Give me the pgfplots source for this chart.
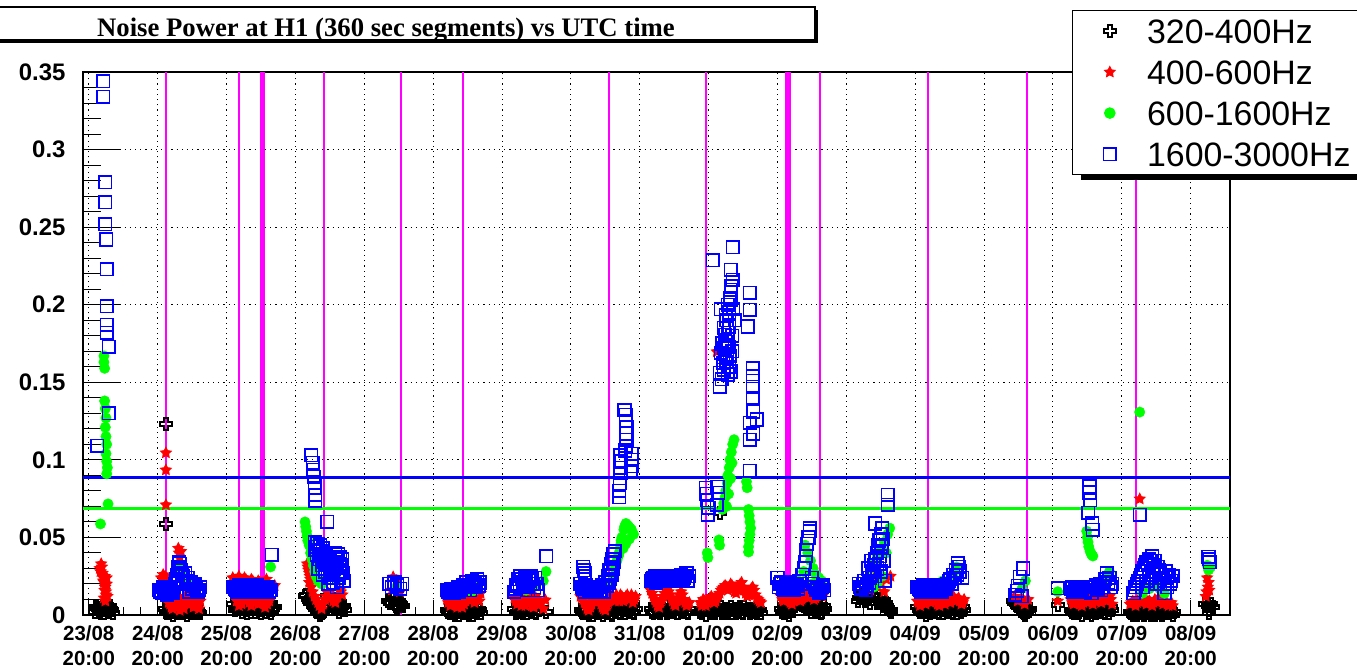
\documentclass[border=0pt]{standalone}
\usepackage{fontspec}
\setmainfont{Liberation Sans}
\newfontfamily\titlefont{Liberation Serif}
\usepackage{pgfplots}
\usepackage{pgfplotstable}
\pgfplotsset{compat=1.18}
\usetikzlibrary{shadows}

% hollow plus marker (320-400 Hz)
\pgfdeclareplotmark{opencross}{%
  \pgfpathmoveto{\pgfqpoint{-0.33\pgfplotmarksize}{\pgfplotmarksize}}%
  \pgfpathlineto{\pgfqpoint{0.33\pgfplotmarksize}{\pgfplotmarksize}}%
  \pgfpathlineto{\pgfqpoint{0.33\pgfplotmarksize}{0.33\pgfplotmarksize}}%
  \pgfpathlineto{\pgfqpoint{\pgfplotmarksize}{0.33\pgfplotmarksize}}%
  \pgfpathlineto{\pgfqpoint{\pgfplotmarksize}{-0.33\pgfplotmarksize}}%
  \pgfpathlineto{\pgfqpoint{0.33\pgfplotmarksize}{-0.33\pgfplotmarksize}}%
  \pgfpathlineto{\pgfqpoint{0.33\pgfplotmarksize}{-\pgfplotmarksize}}%
  \pgfpathlineto{\pgfqpoint{-0.33\pgfplotmarksize}{-\pgfplotmarksize}}%
  \pgfpathlineto{\pgfqpoint{-0.33\pgfplotmarksize}{-0.33\pgfplotmarksize}}%
  \pgfpathlineto{\pgfqpoint{-\pgfplotmarksize}{-0.33\pgfplotmarksize}}%
  \pgfpathlineto{\pgfqpoint{-\pgfplotmarksize}{0.33\pgfplotmarksize}}%
  \pgfpathlineto{\pgfqpoint{-0.33\pgfplotmarksize}{0.33\pgfplotmarksize}}%
  \pgfpathclose\pgfusepathqstroke}

% filled five-point star (400-600 Hz)
\pgfdeclareplotmark{fstar}{%
  \pgfpathmoveto{\pgfqpointpolar{90}{\pgfplotmarksize}}%
  \pgfpathlineto{\pgfqpointpolar{126}{0.5\pgfplotmarksize}}%
  \pgfpathlineto{\pgfqpointpolar{162}{\pgfplotmarksize}}%
  \pgfpathlineto{\pgfqpointpolar{198}{0.5\pgfplotmarksize}}%
  \pgfpathlineto{\pgfqpointpolar{234}{\pgfplotmarksize}}%
  \pgfpathlineto{\pgfqpointpolar{270}{0.5\pgfplotmarksize}}%
  \pgfpathlineto{\pgfqpointpolar{306}{\pgfplotmarksize}}%
  \pgfpathlineto{\pgfqpointpolar{342}{0.5\pgfplotmarksize}}%
  \pgfpathlineto{\pgfqpointpolar{18}{\pgfplotmarksize}}%
  \pgfpathlineto{\pgfqpointpolar{54}{0.5\pgfplotmarksize}}%
  \pgfpathclose\pgfusepathqfillstroke}

% time in days since 23/08 20:00 UTC, noise power per band
\pgfplotstableread[row sep=\\]{
x y\\
0.09 0.002\\ 0.13 0.004\\ 0.17 0.001\\ 0.20 0.006\\ 0.23 0.003\\ 0.26 0.005\\ 0.29 0.002\\ 0.32 0.004\\ 0.35 0.001\\
0.11 0.005\\ 0.15 0.002\\ 0.19 0.004\\ 0.22 0.001\\ 0.25 0.007\\ 0.28 0.003\\ 0.31 0.006\\ 0.34 0.003\\
1.12 0.123\\ 1.12 0.0587\\
1.10 0.004\\ 1.14 0.001\\ 1.18 0.003\\ 1.22 0.000\\ 1.26 0.002\\ 1.30 0.004\\ 1.34 0.001\\ 1.38 0.003\\ 1.42 0.000\\ 1.46 0.002\\ 1.50 0.004\\ 1.54 0.001\\ 1.58 0.003\\ 1.62 0.001\\
1.12 0.002\\ 1.16 0.005\\ 1.20 0.002\\ 1.24 0.004\\ 1.28 0.001\\ 1.32 0.006\\ 1.36 0.003\\ 1.40 0.005\\ 1.44 0.002\\ 1.48 0.004\\ 1.52 0.001\\ 1.56 0.005\\ 1.60 0.002\\
2.10 0.007\\ 2.14 0.004\\ 2.18 0.006\\ 2.22 0.002\\ 2.26 0.005\\ 2.30 0.001\\ 2.34 0.004\\ 2.38 0.006\\ 2.42 0.002\\ 2.46 0.005\\ 2.50 0.001\\ 2.54 0.004\\ 2.58 0.002\\ 2.62 0.006\\ 2.66 0.003\\ 2.70 0.005\\
2.12 0.003\\ 2.16 0.008\\ 2.20 0.004\\ 2.24 0.007\\ 2.28 0.003\\ 2.32 0.006\\ 2.36 0.002\\ 2.40 0.004\\ 2.44 0.007\\ 2.48 0.003\\ 2.52 0.006\\ 2.56 0.002\\ 2.60 0.005\\ 2.64 0.001\\ 2.68 0.004\\
3.14 0.012\\ 3.18 0.010\\ 3.21 0.008\\ 3.25 0.006\\ 3.28 0.004\\ 3.32 0.002\\ 3.36 0.000\\ 3.40 0.002\\ 3.44 0.008\\ 3.48 0.010\\ 3.52 0.006\\ 3.56 0.004\\ 3.60 0.007\\ 3.64 0.002\\ 3.68 0.005\\ 3.72 0.003\\ 3.62 0.0045\\
3.16 0.013\\ 3.20 0.009\\ 3.23 0.011\\ 3.27 0.007\\ 3.30 0.005\\ 3.34 0.003\\ 3.38 0.001\\ 3.42 0.006\\ 3.46 0.012\\ 3.50 0.008\\ 3.54 0.010\\ 3.58 0.006\\ 3.62 0.009\\ 3.66 0.004\\ 3.70 0.006\\
4.35 0.009\\ 4.40 0.011\\ 4.44 0.007\\ 4.48 0.005\\ 4.52 0.008\\ 4.56 0.006\\ 4.38 0.008\\ 4.42 0.010\\ 4.46 0.006\\ 4.50 0.009\\ 4.54 0.007\\
5.20 0.003\\ 5.24 0.001\\ 5.28 0.004\\ 5.32 0.000\\ 5.36 0.002\\ 5.40 0.004\\ 5.44 0.001\\ 5.48 0.003\\ 5.52 0.000\\ 5.56 0.002\\ 5.60 0.004\\ 5.64 0.001\\ 5.68 0.003\\
5.22 0.002\\ 5.26 0.004\\ 5.30 0.001\\ 5.34 0.003\\ 5.38 0.000\\ 5.42 0.002\\ 5.46 0.004\\ 5.50 0.001\\ 5.54 0.003\\ 5.58 0.000\\ 5.62 0.002\\ 5.66 0.004\\ 5.70 0.001\\
6.18 0.004\\ 6.22 0.002\\ 6.26 0.005\\ 6.30 0.001\\ 6.34 0.003\\ 6.38 0.005\\ 6.42 0.002\\ 6.46 0.004\\ 6.50 0.001\\ 6.54 0.003\\ 6.64 0.002\\
6.20 0.001\\ 6.24 0.003\\ 6.28 0.002\\ 6.32 0.004\\ 6.36 0.001\\ 6.40 0.003\\ 6.44 0.005\\ 6.48 0.002\\ 6.52 0.004\\
7.14 0.003\\ 7.18 0.001\\ 7.22 0.004\\ 7.26 0.000\\ 7.30 0.002\\ 7.34 0.004\\ 7.38 0.001\\ 7.42 0.003\\ 7.46 0.000\\ 7.50 0.002\\ 7.54 0.004\\ 7.58 0.001\\ 7.62 0.003\\ 7.66 0.005\\ 7.70 0.002\\ 7.74 0.004\\ 7.78 0.001\\ 7.82 0.003\\ 7.86 0.005\\ 7.90 0.002\\ 7.94 0.004\\
7.16 0.002\\ 7.20 0.004\\ 7.24 0.001\\ 7.28 0.003\\ 7.32 0.000\\ 7.36 0.003\\ 7.40 0.005\\ 7.44 0.002\\ 7.48 0.004\\ 7.52 0.001\\ 7.56 0.003\\ 7.60 0.000\\ 7.64 0.002\\ 7.68 0.004\\ 7.72 0.001\\ 7.76 0.003\\ 7.80 0.005\\ 7.84 0.002\\ 7.88 0.004\\ 7.92 0.001\\
8.16 0.004\\ 8.20 0.001\\ 8.24 0.005\\ 8.28 0.002\\ 8.32 0.006\\ 8.36 0.003\\ 8.40 0.001\\ 8.44 0.004\\ 8.48 0.002\\ 8.52 0.005\\ 8.56 0.001\\ 8.60 0.003\\ 8.64 0.006\\ 8.68 0.002\\ 8.72 0.004\\
8.18 0.002\\ 8.22 0.006\\ 8.26 0.003\\ 8.30 0.001\\ 8.34 0.004\\ 8.38 0.006\\ 8.42 0.002\\ 8.46 0.005\\ 8.50 0.003\\ 8.54 0.001\\ 8.58 0.004\\ 8.62 0.002\\ 8.66 0.005\\ 8.70 0.001\\
8.88 0.002\\ 8.92 0.004\\ 8.96 0.000\\ 9.00 0.003\\ 9.04 0.001\\ 9.08 0.002\\ 9.12 0.005\\ 9.16 0.003\\ 9.20 0.001\\ 9.24 0.004\\ 9.28 0.002\\ 9.32 0.005\\ 9.36 0.003\\ 9.40 0.001\\ 9.44 0.004\\ 9.48 0.002\\ 9.52 0.005\\ 9.56 0.003\\ 9.60 0.001\\ 9.64 0.003\\ 9.68 0.002\\ 9.72 0.004\\ 9.76 0.001\\ 9.17 0.066\\
8.90 0.001\\ 8.94 0.003\\ 8.98 0.005\\ 9.02 0.002\\ 9.06 0.004\\ 9.10 0.001\\ 9.14 0.003\\ 9.18 0.005\\ 9.22 0.002\\ 9.26 0.001\\ 9.30 0.003\\ 9.34 0.001\\ 9.38 0.004\\ 9.42 0.002\\ 9.46 0.005\\ 9.50 0.001\\ 9.54 0.003\\ 9.58 0.004\\ 9.62 0.002\\ 9.66 0.004\\ 9.70 0.001\\ 9.74 0.003\\
10.05 0.004\\ 10.09 0.001\\ 10.13 0.003\\ 10.17 0.000\\ 10.21 0.005\\ 10.25 0.008\\ 10.29 0.011\\ 10.33 0.007\\ 10.37 0.009\\ 10.41 0.004\\ 10.45 0.006\\ 10.49 0.002\\ 10.53 0.005\\ 10.57 0.003\\ 10.61 0.006\\ 10.65 0.002\\ 10.69 0.004\\
10.07 0.002\\ 10.11 0.005\\ 10.15 0.002\\ 10.19 0.003\\ 10.23 0.007\\ 10.27 0.010\\ 10.31 0.009\\ 10.35 0.011\\ 10.39 0.006\\ 10.43 0.008\\ 10.47 0.004\\ 10.51 0.007\\ 10.55 0.002\\ 10.59 0.004\\ 10.63 0.001\\ 10.67 0.006\\
11.17 0.009\\ 11.21 0.012\\ 11.25 0.014\\ 11.29 0.011\\ 11.33 0.013\\ 11.37 0.010\\ 11.41 0.012\\ 11.45 0.008\\ 11.49 0.010\\ 11.53 0.006\\ 11.57 0.008\\ 11.61 0.004\\ 11.65 0.002\\ 11.60 0.0045\\
11.19 0.011\\ 11.23 0.013\\ 11.27 0.009\\ 11.31 0.012\\ 11.35 0.008\\ 11.39 0.013\\ 11.43 0.010\\ 11.47 0.012\\ 11.51 0.008\\ 11.55 0.010\\ 11.59 0.006\\ 11.63 0.003\\
12.03 0.005\\ 12.07 0.002\\ 12.11 0.004\\ 12.15 0.000\\ 12.19 0.003\\ 12.23 0.005\\ 12.27 0.002\\ 12.31 0.004\\ 12.35 0.001\\ 12.39 0.003\\ 12.43 0.005\\ 12.47 0.002\\ 12.51 0.004\\ 12.55 0.001\\ 12.59 0.003\\ 12.63 0.005\\ 12.67 0.002\\ 12.71 0.003\\
12.05 0.003\\ 12.09 0.005\\ 12.13 0.002\\ 12.17 0.004\\ 12.21 0.001\\ 12.25 0.003\\ 12.29 0.006\\ 12.33 0.002\\ 12.37 0.004\\ 12.41 0.001\\ 12.45 0.003\\ 12.49 0.005\\ 12.53 0.002\\ 12.57 0.004\\ 12.61 0.001\\ 12.65 0.003\\ 12.69 0.005\\
13.42 0.009\\ 13.46 0.007\\ 13.50 0.005\\ 13.54 0.003\\ 13.58 0.001\\ 13.62 0.002\\ 13.66 0.004\\
13.44 0.008\\ 13.48 0.006\\ 13.52 0.004\\ 13.56 0.002\\ 13.60 0.000\\ 13.64 0.003\\
14.07 0.0065\\
14.26 0.003\\ 14.30 0.001\\ 14.34 0.004\\ 14.38 0.002\\ 14.42 0.000\\ 14.46 0.003\\ 14.50 0.005\\ 14.54 0.002\\ 14.58 0.004\\ 14.62 0.001\\ 14.66 0.003\\ 14.70 0.006\\ 14.74 0.002\\ 14.78 0.004\\ 14.82 0.001\\ 14.86 0.003\\
14.28 0.002\\ 14.32 0.005\\ 14.36 0.001\\ 14.40 0.003\\ 14.44 0.005\\ 14.48 0.001\\ 14.52 0.003\\ 14.56 0.000\\ 14.60 0.002\\ 14.64 0.005\\ 14.68 0.002\\ 14.72 0.004\\ 14.76 0.001\\ 14.80 0.003\\ 14.84 0.005\\
15.12 0.002\\ 15.16 0.000\\ 15.20 0.003\\ 15.24 0.001\\ 15.28 0.002\\ 15.32 0.000\\ 15.36 0.003\\ 15.40 0.001\\ 15.44 0.002\\ 15.48 0.000\\ 15.52 0.003\\ 15.56 0.001\\ 15.60 0.002\\ 15.64 0.004\\ 15.68 0.001\\ 15.72 0.003\\ 15.76 0.002\\
15.14 0.001\\ 15.18 0.003\\ 15.22 0.000\\ 15.26 0.002\\ 15.30 0.004\\ 15.34 0.001\\ 15.38 0.002\\ 15.42 0.000\\ 15.46 0.003\\ 15.50 0.001\\ 15.54 0.002\\ 15.58 0.000\\ 15.62 0.003\\ 15.66 0.001\\ 15.70 0.002\\ 15.74 0.000\\
16.21 0.007\\ 16.25 0.006\\ 16.29 0.007\\ 16.33 0.005\\ 16.27 0.003\\ 16.27 0.001\\
}\bandA

\pgfplotstableread[row sep=\\]{
x y\\
0.16 0.030\\ 0.18 0.033\\ 0.20 0.027\\ 0.21 0.024\\ 0.22 0.021\\ 0.23 0.025\\ 0.24 0.018\\ 0.25 0.015\\ 0.26 0.020\\ 0.27 0.012\\ 0.24 0.009\\ 0.22 0.011\\
0.17 0.028\\ 0.19 0.031\\ 0.21 0.022\\ 0.23 0.016\\ 0.25 0.013\\ 0.26 0.024\\
1.12 0.1045\\ 1.12 0.0935\\ 1.12 0.071\\ 1.11 0.025\\
1.30 0.043\\ 1.31 0.040\\ 1.32 0.037\\ 1.34 0.041\\
1.05 0.024\\ 1.08 0.026\\ 1.16 0.008\\ 1.20 0.005\\ 1.24 0.010\\ 1.28 0.006\\ 1.32 0.003\\ 1.36 0.009\\ 1.40 0.012\\ 1.44 0.007\\ 1.48 0.010\\ 1.52 0.005\\ 1.56 0.008\\ 1.60 0.004\\
1.14 0.011\\ 1.18 0.007\\ 1.22 0.004\\ 1.26 0.008\\ 1.30 0.011\\ 1.34 0.006\\ 1.38 0.004\\ 1.42 0.009\\ 1.46 0.012\\ 1.50 0.008\\ 1.54 0.011\\ 1.58 0.006\\ 1.62 0.009\\
2.09 0.024\\ 2.13 0.022\\ 2.18 0.025\\ 2.23 0.021\\ 2.28 0.023\\ 2.33 0.020\\ 2.38 0.022\\ 2.43 0.019\\ 2.48 0.021\\ 2.53 0.020\\ 2.58 0.023\\ 2.63 0.018\\ 2.67 0.017\\ 2.70 0.019\\
2.11 0.021\\ 2.16 0.023\\ 2.21 0.020\\ 2.26 0.024\\ 2.31 0.021\\ 2.36 0.023\\ 2.41 0.020\\ 2.46 0.022\\ 2.51 0.019\\ 2.56 0.021\\ 2.61 0.020\\
2.15 0.009\\ 2.22 0.007\\ 2.30 0.011\\ 2.36 0.006\\ 2.42 0.010\\ 2.50 0.008\\ 2.56 0.005\\ 2.62 0.009\\
2.18 0.006\\ 2.26 0.010\\ 2.33 0.008\\ 2.39 0.011\\ 2.46 0.007\\ 2.53 0.010\\ 2.59 0.007\\
3.17 0.033\\ 3.19 0.029\\ 3.21 0.025\\ 3.20 0.021\\ 3.23 0.018\\
3.18 0.031\\ 3.20 0.027\\ 3.22 0.023\\ 3.25 0.015\\
3.28 0.012\\ 3.33 0.008\\ 3.38 0.004\\ 3.43 0.010\\ 3.48 0.014\\ 3.53 0.011\\ 3.58 0.008\\ 3.64 0.016\\ 3.68 0.013\\
3.30 0.010\\ 3.35 0.006\\ 3.40 0.007\\ 3.45 0.012\\ 3.50 0.013\\ 3.55 0.009\\ 3.61 0.012\\ 3.66 0.015\\
4.42 0.0245\\ 4.47 0.022\\ 4.40 0.016\\ 4.52 0.015\\
5.20 0.010\\ 5.25 0.006\\ 5.30 0.009\\ 5.35 0.005\\ 5.40 0.011\\ 5.45 0.007\\ 5.50 0.010\\ 5.55 0.013\\ 5.60 0.008\\ 5.65 0.011\\ 5.69 0.014\\
5.22 0.008\\ 5.27 0.011\\ 5.32 0.007\\ 5.37 0.009\\ 5.42 0.005\\ 5.47 0.009\\ 5.52 0.012\\ 5.57 0.010\\ 5.62 0.012\\ 5.67 0.009\\
6.18 0.011\\ 6.22 0.007\\ 6.26 0.012\\ 6.30 0.009\\ 6.34 0.006\\ 6.38 0.011\\ 6.42 0.008\\ 6.46 0.005\\ 6.50 0.010\\ 6.56 0.007\\ 6.63 0.0097\\ 6.60 0.004\\
6.20 0.009\\ 6.24 0.010\\ 6.28 0.006\\ 6.32 0.011\\ 6.36 0.008\\ 6.40 0.010\\ 6.44 0.006\\ 6.48 0.012\\ 6.53 0.008\\
7.14 0.012\\ 7.18 0.010\\ 7.22 0.006\\ 7.26 0.003\\ 7.30 0.007\\ 7.34 0.011\\ 7.38 0.013\\ 7.42 0.009\\ 7.46 0.005\\ 7.50 0.003\\ 7.54 0.008\\ 7.58 0.012\\ 7.62 0.011\\ 7.66 0.013\\ 7.70 0.009\\ 7.74 0.012\\ 7.78 0.010\\ 7.82 0.013\\ 7.86 0.011\\ 7.90 0.008\\ 7.94 0.012\\
7.16 0.011\\ 7.20 0.008\\ 7.24 0.004\\ 7.28 0.005\\ 7.32 0.009\\ 7.36 0.012\\ 7.40 0.011\\ 7.44 0.007\\ 7.48 0.004\\ 7.52 0.006\\ 7.56 0.010\\ 7.60 0.013\\ 7.64 0.009\\ 7.68 0.011\\ 7.72 0.013\\ 7.76 0.009\\ 7.80 0.012\\ 7.84 0.010\\ 7.88 0.013\\ 7.92 0.010\\
8.16 0.016\\ 8.20 0.012\\ 8.24 0.008\\ 8.28 0.005\\ 8.32 0.010\\ 8.36 0.014\\ 8.40 0.017\\ 8.44 0.013\\ 8.48 0.009\\ 8.52 0.006\\ 8.56 0.011\\ 8.60 0.015\\ 8.64 0.010\\ 8.68 0.006\\ 8.72 0.008\\
8.18 0.014\\ 8.22 0.010\\ 8.26 0.006\\ 8.30 0.008\\ 8.34 0.012\\ 8.38 0.016\\ 8.42 0.015\\ 8.46 0.011\\ 8.50 0.007\\ 8.54 0.009\\ 8.58 0.013\\ 8.62 0.013\\ 8.66 0.008\\ 8.70 0.007\\
8.88 0.008\\ 8.92 0.010\\ 8.96 0.006\\ 9.00 0.009\\ 9.04 0.012\\ 9.08 0.008\\ 9.12 0.011\\ 9.16 0.014\\ 9.20 0.017\\ 9.24 0.019\\ 9.28 0.016\\ 9.32 0.020\\ 9.36 0.017\\ 9.40 0.014\\ 9.44 0.018\\ 9.48 0.021\\ 9.52 0.016\\ 9.56 0.012\\ 9.60 0.015\\ 9.64 0.018\\ 9.68 0.013\\ 9.72 0.010\\ 9.76 0.008\\
8.90 0.006\\ 8.94 0.009\\ 8.98 0.008\\ 9.02 0.011\\ 9.06 0.010\\ 9.10 0.009\\ 9.14 0.013\\ 9.18 0.016\\ 9.22 0.018\\ 9.26 0.018\\ 9.30 0.018\\ 9.34 0.019\\ 9.38 0.015\\ 9.42 0.016\\ 9.46 0.020\\ 9.50 0.018\\ 9.54 0.014\\ 9.58 0.013\\ 9.62 0.017\\ 9.66 0.016\\ 9.70 0.011\\ 9.74 0.009\\
9.12 0.1697\\
10.05 0.012\\ 10.09 0.009\\ 10.13 0.013\\ 10.17 0.010\\ 10.21 0.007\\ 10.25 0.011\\ 10.29 0.013\\ 10.33 0.009\\ 10.37 0.012\\ 10.41 0.015\\ 10.45 0.011\\ 10.49 0.014\\ 10.53 0.010\\ 10.57 0.013\\ 10.61 0.016\\ 10.65 0.012\\
10.07 0.010\\ 10.11 0.012\\ 10.15 0.011\\ 10.19 0.008\\ 10.23 0.009\\ 10.27 0.012\\ 10.31 0.011\\ 10.35 0.010\\ 10.39 0.014\\ 10.43 0.013\\ 10.47 0.012\\ 10.51 0.012\\ 10.55 0.011\\ 10.59 0.015\\ 10.63 0.014\\
11.30 0.022\\ 11.40 0.024\\ 11.50 0.020\\ 11.58 0.023\\ 11.64 0.025\\ 11.35 0.016\\ 11.45 0.018\\ 11.55 0.015\\
12.03 0.009\\ 12.07 0.006\\ 12.11 0.010\\ 12.15 0.007\\ 12.19 0.011\\ 12.23 0.008\\ 12.27 0.012\\ 12.31 0.009\\ 12.35 0.006\\ 12.39 0.010\\ 12.43 0.007\\ 12.47 0.011\\ 12.51 0.008\\ 12.55 0.012\\ 12.59 0.009\\ 12.63 0.011\\ 12.67 0.007\\ 12.71 0.010\\
12.05 0.008\\ 12.09 0.010\\ 12.13 0.008\\ 12.17 0.009\\ 12.21 0.010\\ 12.25 0.010\\ 12.29 0.011\\ 12.33 0.007\\ 12.37 0.008\\ 12.41 0.009\\ 12.45 0.009\\ 12.49 0.010\\ 12.53 0.010\\ 12.57 0.011\\ 12.61 0.010\\ 12.65 0.009\\ 12.69 0.008\\
13.44 0.012\\ 13.49 0.009\\ 13.54 0.011\\ 13.59 0.007\\ 13.64 0.010\\
14.07 0.009\\
14.26 0.010\\ 14.30 0.007\\ 14.34 0.012\\ 14.38 0.009\\ 14.42 0.006\\ 14.46 0.010\\ 14.50 0.008\\ 14.54 0.011\\ 14.58 0.007\\ 14.62 0.010\\ 14.66 0.012\\ 14.70 0.008\\ 14.74 0.011\\ 14.78 0.009\\ 14.82 0.012\\ 14.86 0.007\\
14.28 0.008\\ 14.32 0.010\\ 14.36 0.011\\ 14.40 0.007\\ 14.44 0.008\\ 14.48 0.009\\ 14.52 0.010\\ 14.56 0.009\\ 14.60 0.009\\ 14.64 0.011\\ 14.68 0.010\\ 14.72 0.010\\ 14.76 0.010\\ 14.80 0.011\\ 14.84 0.010\\
15.12 0.007\\ 15.16 0.009\\ 15.20 0.006\\ 15.24 0.010\\ 15.28 0.008\\ 15.32 0.011\\ 15.36 0.007\\ 15.40 0.009\\ 15.44 0.006\\ 15.48 0.010\\ 15.52 0.008\\ 15.56 0.011\\ 15.60 0.007\\ 15.64 0.009\\ 15.68 0.006\\ 15.72 0.008\\
15.14 0.008\\ 15.18 0.008\\ 15.22 0.008\\ 15.26 0.009\\ 15.30 0.010\\ 15.34 0.009\\ 15.38 0.008\\ 15.42 0.008\\ 15.46 0.008\\ 15.50 0.009\\ 15.54 0.010\\ 15.58 0.009\\ 15.62 0.008\\ 15.66 0.007\\ 15.70 0.007\\ 15.74 0.006\\
15.26 0.0748\\
16.24 0.024\\ 16.26 0.021\\ 16.25 0.018\\ 16.23 0.015\\ 16.22 0.012\\ 16.27 0.016\\
}\bandB

\pgfplotstableread[row sep=\\]{
x y\\
0.22 0.167\\ 0.22 0.163\\ 0.23 0.159\\ 0.23 0.138\\ 0.24 0.133\\ 0.25 0.127\\ 0.24 0.121\\ 0.25 0.115\\ 0.26 0.110\\ 0.25 0.104\\ 0.26 0.099\\ 0.27 0.095\\ 0.26 0.091\\ 0.28 0.0716\\ 0.17 0.0587\\
1.33 0.030\\ 1.38 0.025\\ 1.45 0.022\\ 1.50 0.020\\ 1.55 0.018\\
2.30 0.017\\ 2.45 0.016\\ 2.55 0.018\\ 2.64 0.031\\
3.14 0.060\\ 3.15 0.057\\ 3.16 0.054\\ 3.17 0.051\\ 3.18 0.048\\ 3.20 0.045\\ 3.22 0.040\\ 3.24 0.036\\ 3.26 0.032\\ 3.28 0.028\\ 3.30 0.025\\ 3.33 0.022\\ 3.38 0.020\\ 3.45 0.024\\ 3.50 0.028\\ 3.55 0.026\\ 3.60 0.023\\
4.47 0.018\\
5.55 0.015\\ 5.58 0.019\\ 5.60 0.016\\ 5.64 0.018\\
6.35 0.016\\ 6.45 0.018\\ 6.60 0.022\\ 6.64 0.028\\
7.58 0.020\\ 7.62 0.025\\ 7.64 0.030\\ 7.67 0.035\\ 7.70 0.040\\ 7.72 0.045\\ 7.74 0.050\\ 7.77 0.055\\ 7.80 0.059\\ 7.84 0.057\\ 7.88 0.055\\ 7.91 0.052\\ 7.85 0.049\\ 7.80 0.046\\ 7.76 0.043\\
7.65 0.033\\ 7.69 0.038\\ 7.73 0.048\\ 7.78 0.057\\ 7.82 0.058\\ 7.86 0.056\\
8.28 0.0226\\ 8.43 0.023\\ 8.50 0.021\\ 8.60 0.022\\
8.98 0.040\\ 8.99 0.037\\ 9.15 0.0484\\ 9.16 0.045\\
9.20 0.068\\ 9.22 0.072\\ 9.24 0.076\\ 9.25 0.080\\ 9.27 0.085\\ 9.28 0.090\\ 9.30 0.095\\ 9.31 0.100\\ 9.33 0.105\\ 9.35 0.110\\ 9.37 0.113\\ 9.34 0.098\\ 9.32 0.088\\ 9.29 0.078\\ 9.26 0.070\\
9.55 0.086\\ 9.56 0.082\\ 9.58 0.068\\ 9.59 0.064\\ 9.60 0.060\\ 9.61 0.056\\ 9.60 0.052\\ 9.59 0.048\\ 9.58 0.044\\ 9.58 0.0406\\
10.30 0.022\\ 10.38 0.028\\ 10.40 0.045\\ 10.44 0.040\\ 10.48 0.035\\ 10.50 0.020\\ 10.52 0.030\\ 10.56 0.026\\ 10.60 0.024\\ 10.64 0.022\\
11.30 0.020\\ 11.35 0.030\\ 11.40 0.033\\ 11.40 0.018\\ 11.45 0.038\\ 11.45 0.020\\ 11.50 0.042\\ 11.52 0.025\\ 11.55 0.047\\ 11.58 0.040\\ 11.60 0.052\\ 11.63 0.056\\
12.05 0.016\\ 12.10 0.014\\ 12.40 0.022\\ 12.55 0.026\\ 12.60 0.031\\
13.55 0.017\\ 13.60 0.022\\
14.07 0.015\\
14.38 0.017\\ 14.49 0.054\\ 14.50 0.050\\ 14.51 0.047\\ 14.52 0.044\\ 14.54 0.041\\ 14.56 0.039\\ 14.58 0.038\\ 14.70 0.020\\ 14.78 0.024\\ 14.82 0.028\\
15.30 0.014\\ 15.40 0.017\\ 15.50 0.020\\ 15.55 0.017\\ 15.62 0.014\\
15.26 0.1308\\
16.24 0.032\\ 16.26 0.029\\ 16.29 0.031\\
}\bandC

\pgfplotstableread[row sep=\\]{
x y\\
0.21 0.344\\ 0.21 0.334\\ 0.24 0.279\\ 0.24 0.266\\ 0.24 0.252\\ 0.25 0.242\\ 0.26 0.223\\ 0.26 0.199\\ 0.26 0.187\\ 0.26 0.182\\ 0.29 0.173\\ 0.29 0.130\\ 0.12 0.109\\
1.02 0.016\\ 1.06 0.014\\ 1.10 0.017\\ 1.14 0.013\\ 1.18 0.016\\ 1.22 0.014\\ 1.24 0.018\\ 1.26 0.020\\ 1.28 0.026\\ 1.30 0.031\\ 1.30 0.022\\ 1.32 0.033\\ 1.34 0.029\\ 1.36 0.025\\ 1.38 0.020\\ 1.40 0.027\\ 1.44 0.024\\ 1.46 0.015\\ 1.48 0.021\\ 1.52 0.019\\ 1.56 0.017\\ 1.60 0.016\\
1.04 0.015\\ 1.08 0.018\\ 1.12 0.015\\ 1.16 0.017\\ 1.20 0.015\\ 1.27 0.023\\ 1.29 0.029\\ 1.31 0.034\\ 1.33 0.030\\ 1.35 0.027\\ 1.42 0.022\\ 1.50 0.017\\ 1.54 0.020\\ 1.58 0.015\\ 1.62 0.018\\
2.10 0.018\\ 2.14 0.016\\ 2.18 0.019\\ 2.22 0.017\\ 2.26 0.015\\ 2.30 0.018\\ 2.34 0.016\\ 2.38 0.019\\ 2.42 0.017\\ 2.46 0.015\\ 2.50 0.018\\ 2.54 0.016\\ 2.58 0.017\\ 2.62 0.015\\ 2.66 0.0387\\
2.12 0.017\\ 2.16 0.015\\ 2.20 0.018\\ 2.24 0.016\\ 2.28 0.019\\ 2.32 0.015\\ 2.36 0.018\\ 2.40 0.016\\ 2.44 0.019\\ 2.48 0.016\\ 2.52 0.017\\ 2.56 0.015\\ 2.60 0.018\\ 2.64 0.016\\
3.23 0.103\\ 3.25 0.098\\ 3.26 0.0935\\ 3.27 0.089\\ 3.28 0.085\\ 3.28 0.082\\ 3.29 0.0774\\ 3.29 0.0735\\ 3.46 0.060\\
3.28 0.047\\ 3.30 0.044\\ 3.32 0.046\\ 3.33 0.030\\ 3.34 0.041\\ 3.36 0.045\\ 3.38 0.038\\ 3.40 0.043\\ 3.40 0.026\\ 3.42 0.035\\ 3.44 0.040\\ 3.46 0.032\\ 3.48 0.037\\ 3.48 0.020\\ 3.50 0.028\\ 3.52 0.033\\ 3.54 0.024\\ 3.56 0.030\\ 3.58 0.040\\ 3.60 0.036\\ 3.60 0.018\\ 3.62 0.039\\ 3.64 0.033\\ 3.66 0.028\\ 3.68 0.036\\ 3.70 0.022\\
3.29 0.042\\ 3.31 0.039\\ 3.35 0.036\\ 3.37 0.041\\ 3.39 0.032\\ 3.41 0.039\\ 3.43 0.028\\ 3.45 0.036\\ 3.47 0.027\\ 3.49 0.033\\ 3.51 0.024\\ 3.53 0.029\\ 3.55 0.021\\ 3.57 0.034\\ 3.59 0.031\\ 3.61 0.027\\ 3.63 0.024\\ 3.65 0.037\\ 3.67 0.032\\ 3.69 0.027\\
4.36 0.020\\ 4.40 0.018\\ 4.44 0.021\\ 4.48 0.019\\ 4.52 0.017\\ 4.55 0.020\\
5.20 0.016\\ 5.24 0.014\\ 5.28 0.017\\ 5.32 0.015\\ 5.36 0.018\\ 5.40 0.016\\ 5.44 0.019\\ 5.48 0.021\\ 5.52 0.018\\ 5.56 0.022\\ 5.60 0.020\\ 5.64 0.023\\ 5.68 0.021\\
5.22 0.015\\ 5.26 0.017\\ 5.30 0.014\\ 5.34 0.017\\ 5.38 0.015\\ 5.42 0.018\\ 5.46 0.016\\ 5.50 0.019\\ 5.54 0.016\\ 5.58 0.020\\ 5.62 0.018\\ 5.66 0.019\\
6.18 0.015\\ 6.21 0.019\\ 6.24 0.023\\ 6.27 0.025\\ 6.30 0.021\\ 6.33 0.024\\ 6.36 0.018\\ 6.39 0.022\\ 6.42 0.025\\ 6.45 0.020\\ 6.48 0.024\\ 6.52 0.016\\ 6.64 0.038\\
6.20 0.017\\ 6.23 0.020\\ 6.26 0.018\\ 6.29 0.023\\ 6.32 0.019\\ 6.35 0.022\\ 6.38 0.016\\ 6.41 0.020\\ 6.44 0.023\\ 6.47 0.018\\ 6.50 0.020\\
7.18 0.031\\ 7.19 0.029\\ 7.20 0.027\\ 7.21 0.025\\ 7.20 0.023\\
7.14 0.020\\ 7.18 0.017\\ 7.22 0.019\\ 7.26 0.016\\ 7.30 0.018\\ 7.34 0.015\\ 7.38 0.017\\ 7.42 0.016\\ 7.46 0.019\\ 7.48 0.015\\ 7.50 0.021\\ 7.54 0.025\\ 7.56 0.029\\ 7.57 0.023\\ 7.58 0.033\\ 7.60 0.036\\ 7.61 0.030\\ 7.62 0.039\\ 7.64 0.041\\
7.16 0.018\\ 7.20 0.015\\ 7.24 0.018\\ 7.28 0.015\\ 7.32 0.017\\ 7.36 0.016\\ 7.40 0.018\\ 7.44 0.015\\ 7.52 0.019\\ 7.55 0.021\\ 7.59 0.026\\ 7.63 0.034\\
7.78 0.132\\ 7.80 0.129\\ 7.80 0.125\\ 7.81 0.121\\ 7.80 0.117\\ 7.81 0.113\\ 7.80 0.109\\ 7.79 0.106\\ 7.72 0.103\\ 7.73 0.099\\ 7.72 0.095\\ 7.72 0.0916\\ 7.88 0.104\\ 7.89 0.100\\ 7.88 0.096\\ 7.87 0.093\\ 7.71 0.085\\ 7.70 0.080\\ 7.70 0.076\\
8.16 0.022\\ 8.20 0.024\\ 8.24 0.021\\ 8.28 0.023\\ 8.32 0.022\\ 8.36 0.025\\ 8.40 0.023\\ 8.44 0.024\\ 8.48 0.022\\ 8.52 0.025\\ 8.56 0.023\\ 8.60 0.026\\ 8.64 0.024\\ 8.68 0.027\\ 8.72 0.025\\
8.18 0.023\\ 8.22 0.025\\ 8.26 0.022\\ 8.30 0.024\\ 8.34 0.023\\ 8.38 0.022\\ 8.42 0.025\\ 8.46 0.023\\ 8.50 0.024\\ 8.54 0.022\\ 8.58 0.024\\ 8.62 0.023\\ 8.66 0.025\\ 8.70 0.022\\
8.96 0.082\\ 8.97 0.078\\ 8.98 0.074\\ 8.99 0.0645\\ 9.00 0.069\\ 9.12 0.071\\ 9.13 0.0826\\ 9.14 0.0787\\
9.35 0.237\\ 9.06 0.2286\\ 9.32 0.2226\\ 9.35 0.216\\ 9.32 0.2097\\ 9.32 0.2032\\ 9.60 0.2077\\ 9.60 0.1968\\ 9.57 0.186\\ 9.18 0.197\\ 9.26 0.190\\ 9.24 0.1806\\ 9.29 0.173\\ 9.18 0.169\\ 9.21 0.1626\\ 9.16 0.156\\ 9.16 0.147\\ 9.32 0.157\\ 9.28 0.200\\ 9.25 0.193\\ 9.22 0.185\\ 9.20 0.175\\ 9.27 0.166\\ 9.30 0.160\\ 9.34 0.180\\ 9.30 0.186\\ 9.36 0.197\\ 9.38 0.190\\ 9.23 0.172\\
9.19 0.152\\ 9.22 0.158\\ 9.24 0.168\\ 9.26 0.176\\ 9.28 0.182\\ 9.30 0.195\\ 9.31 0.204\\ 9.33 0.212\\ 9.26 0.163\\ 9.28 0.155\\ 9.34 0.170\\ 9.31 0.167\\
9.64 0.159\\ 9.64 0.154\\ 9.64 0.147\\ 9.64 0.140\\ 9.65 0.131\\ 9.70 0.126\\ 9.60 0.124\\ 9.65 0.117\\ 9.60 0.113\\ 9.60 0.093\\
10.00 0.024\\ 10.04 0.020\\ 10.08 0.017\\ 10.12 0.019\\ 10.16 0.021\\ 10.20 0.018\\ 10.24 0.016\\ 10.28 0.019\\ 10.32 0.022\\
10.02 0.018\\ 10.06 0.021\\ 10.10 0.016\\ 10.14 0.018\\ 10.18 0.020\\ 10.22 0.017\\ 10.26 0.020\\ 10.30 0.017\\ 10.34 0.020\\
10.36 0.026\\ 10.38 0.030\\ 10.40 0.034\\ 10.42 0.038\\ 10.42 0.042\\ 10.43 0.046\\ 10.45 0.050\\ 10.47 0.054\\ 10.47 0.056\\
10.50 0.024\\ 10.52 0.020\\ 10.56 0.016\\ 10.60 0.014\\ 10.64 0.018\\ 10.68 0.016\\ 10.54 0.018\\ 10.58 0.017\\ 10.62 0.015\\ 10.66 0.019\\
11.18 0.020\\ 11.22 0.017\\ 11.26 0.022\\ 11.30 0.019\\ 11.32 0.030\\ 11.34 0.024\\ 11.36 0.035\\ 11.38 0.028\\ 11.40 0.032\\ 11.42 0.036\\ 11.42 0.059\\ 11.44 0.040\\ 11.46 0.044\\ 11.46 0.045\\ 11.48 0.048\\ 11.50 0.052\\ 11.50 0.028\\ 11.52 0.056\\ 11.54 0.035\\ 11.56 0.022\\ 11.60 0.0774\\ 11.60 0.071\\
11.20 0.018\\ 11.24 0.020\\ 11.28 0.016\\ 11.33 0.021\\ 11.37 0.026\\ 11.41 0.025\\ 11.45 0.030\\ 11.49 0.038\\ 11.51 0.044\\ 11.53 0.049\\ 11.48 0.033\\
12.03 0.018\\ 12.07 0.016\\ 12.11 0.019\\ 12.15 0.017\\ 12.19 0.015\\ 12.23 0.018\\ 12.27 0.016\\ 12.31 0.019\\ 12.35 0.017\\ 12.39 0.015\\ 12.43 0.018\\ 12.47 0.020\\ 12.51 0.023\\ 12.55 0.026\\ 12.59 0.029\\ 12.62 0.0335\\ 12.65 0.028\\ 12.68 0.024\\
12.05 0.017\\ 12.09 0.015\\ 12.13 0.018\\ 12.17 0.016\\ 12.21 0.019\\ 12.25 0.017\\ 12.29 0.015\\ 12.33 0.018\\ 12.37 0.016\\ 12.41 0.019\\ 12.45 0.017\\ 12.49 0.022\\ 12.53 0.020\\ 12.57 0.024\\ 12.61 0.026\\ 12.64 0.031\\
13.45 0.013\\ 13.48 0.0155\\ 13.49 0.0187\\ 13.52 0.0245\\ 13.55 0.012\\ 13.57 0.030\\
14.07 0.0174\\
14.26 0.017\\ 14.30 0.015\\ 14.34 0.018\\ 14.38 0.016\\ 14.42 0.017\\ 14.46 0.015\\ 14.56 0.014\\ 14.60 0.018\\ 14.64 0.016\\ 14.68 0.020\\ 14.72 0.018\\ 14.76 0.023\\ 14.78 0.027\\ 14.82 0.024\\ 14.86 0.020\\
14.28 0.018\\ 14.32 0.016\\ 14.36 0.017\\ 14.40 0.015\\ 14.44 0.018\\ 14.58 0.016\\ 14.62 0.019\\ 14.66 0.017\\ 14.70 0.016\\ 14.74 0.020\\ 14.80 0.021\\ 14.84 0.018\\
14.53 0.083\\ 14.53 0.079\\ 14.54 0.074\\ 14.51 0.066\\ 14.57 0.059\\ 14.58 0.055\\
15.17 0.014\\ 15.20 0.018\\ 15.24 0.022\\ 15.28 0.026\\ 15.30 0.018\\ 15.32 0.030\\ 15.36 0.034\\ 15.40 0.036\\ 15.40 0.024\\ 15.44 0.038\\ 15.48 0.035\\ 15.50 0.020\\ 15.52 0.031\\ 15.56 0.027\\ 15.60 0.024\\ 15.62 0.014\\ 15.64 0.028\\ 15.66 0.018\\ 15.68 0.026\\ 15.72 0.022\\
15.19 0.016\\ 15.22 0.020\\ 15.26 0.024\\ 15.30 0.028\\ 15.34 0.032\\ 15.38 0.033\\ 15.42 0.035\\ 15.46 0.032\\ 15.50 0.028\\ 15.54 0.029\\ 15.58 0.026\\ 15.62 0.022\\ 15.66 0.024\\ 15.70 0.020\\ 15.74 0.025\\ 15.44 0.026\\ 15.36 0.022\\ 15.56 0.020\\
15.26 0.0645\\
16.26 0.0374\\ 16.27 0.036\\ 16.28 0.034\\
}\bandD

\definecolor{rootgreen}{RGB}{0,255,0}
\definecolor{rootblue}{RGB}{0,0,255}
\definecolor{rootred}{RGB}{255,0,0}
\definecolor{rootmagenta}{RGB}{255,0,255}

\begin{document}
\begin{tikzpicture}
\useasboundingbox (0,0) rectangle (1357bp,669bp);

\begin{axis}[
  at={(83bp,54bp)}, anchor=south west,
  scale only axis, width=1147bp, height=543bp,
  xmin=-0.084, xmax=16.571, ymin=0, ymax=0.35,
  axis line style={line width=1.5bp},
  tick pos=left, tick align=inside,
  tick style={black, line width=1bp},
  major tick length=15bp, minor tick length=8bp,
  ytick style={/pgfplots/major tick length=37bp, /pgfplots/minor tick length=18bp},
  xtick={0,1,2,3,4,5,6,7,8,9,10,11,12,13,14,15,16},
  xticklabels={{23/08\\20:00},{24/08\\20:00},{25/08\\20:00},{26/08\\20:00},{27/08\\20:00},{28/08\\20:00},{29/08\\20:00},{30/08\\20:00},{31/08\\20:00},{01/09\\20:00},{02/09\\20:00},{03/09\\20:00},{04/09\\20:00},{05/09\\20:00},{06/09\\20:00},{07/09\\20:00},{08/09\\20:00}},
  ytick={0,0.05,0.1,0.15,0.2,0.25,0.3,0.35},
  yticklabels={0,0.05,0.1,0.15,0.2,0.25,0.3,0.35},
  minor x tick num=3, minor y tick num=4,
  xmajorgrids, ymajorgrids,
  major grid style={black, line width=0.9bp, dash pattern=on 1.2bp off 4bp},
  xticklabel style={font=\bfseries\fontsize{20.5}{25}\selectfont, align=center, yshift=-7bp},
  yticklabel style={font=\bfseries\fontsize{24}{27}\selectfont, xshift=-14bp},
  legend style={at={(0.8622,1.1142)}, anchor=north west, draw=black, line width=1.2bp,
    fill=white, font=\fontsize{34}{40}\selectfont, inner xsep=31bp, inner ysep=0bp,
    column sep=29bp,
    drop shadow={shadow xshift=8bp, shadow yshift=-5bp, fill=black, opacity=1},
    nodes={text height=25bp, text depth=0bp, inner ysep=8bp}},
  legend cell align=left,
]
\addplot[only marks, mark=opencross, mark size=6bp, draw=black, line width=2bp] table {\bandA};
\addlegendentry{320-400Hz}
\addplot[only marks, mark=fstar, mark size=5.5bp, draw=rootred, fill=rootred, line width=1bp] table {\bandB};
\addlegendentry{400-600Hz}
\addplot[only marks, mark=*, mark size=5.2bp, draw=rootgreen, fill=rootgreen] table {\bandC};
\addlegendentry{600-1600Hz}
\addplot[only marks, mark=square, mark size=6.3bp, draw=rootblue, line width=1.6bp] table {\bandD};
\addlegendentry{1600-3000Hz}

% segment boundaries
\addplot[rootmagenta, line width=2bp, forget plot] coordinates {(1.121,0) (1.121,0.35)};
\addplot[rootmagenta, line width=2bp, forget plot] coordinates {(2.185,0) (2.185,0.35)};
\addplot[rootmagenta, line width=5bp, forget plot] coordinates {(2.519,0) (2.519,0.35)};
\addplot[rootmagenta, line width=2bp, forget plot] coordinates {(3.415,0) (3.415,0.35)};
\addplot[rootmagenta, line width=2bp, forget plot] coordinates {(4.529,0) (4.529,0.35)};
\addplot[rootmagenta, line width=2bp, forget plot] coordinates {(5.429,0) (5.429,0.35)};
\addplot[rootmagenta, line width=2bp, forget plot] coordinates {(7.553,0) (7.553,0.35)};
\addplot[rootmagenta, line width=2bp, forget plot] coordinates {(8.958,0) (8.958,0.35)};
\addplot[rootmagenta, line width=6bp, forget plot] coordinates {(10.157,0) (10.157,0.35)};
\addplot[rootmagenta, line width=2bp, forget plot] coordinates {(10.617,0) (10.617,0.35)};
\addplot[rootmagenta, line width=2bp, forget plot] coordinates {(12.19,0) (12.19,0.35)};
\addplot[rootmagenta, line width=2bp, forget plot] coordinates {(13.62,0) (13.62,0.35)};
\addplot[rootmagenta, line width=2bp, forget plot] coordinates {(15.205,0) (15.205,0.35)};
% thresholds
\addplot[rootblue, line width=3bp, forget plot] coordinates {(-0.084,0.0886) (16.571,0.0886)};
\addplot[rootgreen, line width=3bp, forget plot] coordinates {(-0.084,0.0684) (16.571,0.0684)};
\end{axis}

% title box with shadow
\fill[black] (-7bp,626bp) rectangle (818bp,659bp);
\filldraw[fill=white, draw=black, line width=1.5bp] (-10bp,629bp) rectangle (815bp,662bp);
\node[font=\titlefont\bfseries\fontsize{26.8}{30}\selectfont] at (386bp,639bp)
  {Noise Power at H1 (360 sec segments) vs UTC time};
\end{tikzpicture}
\end{document}
